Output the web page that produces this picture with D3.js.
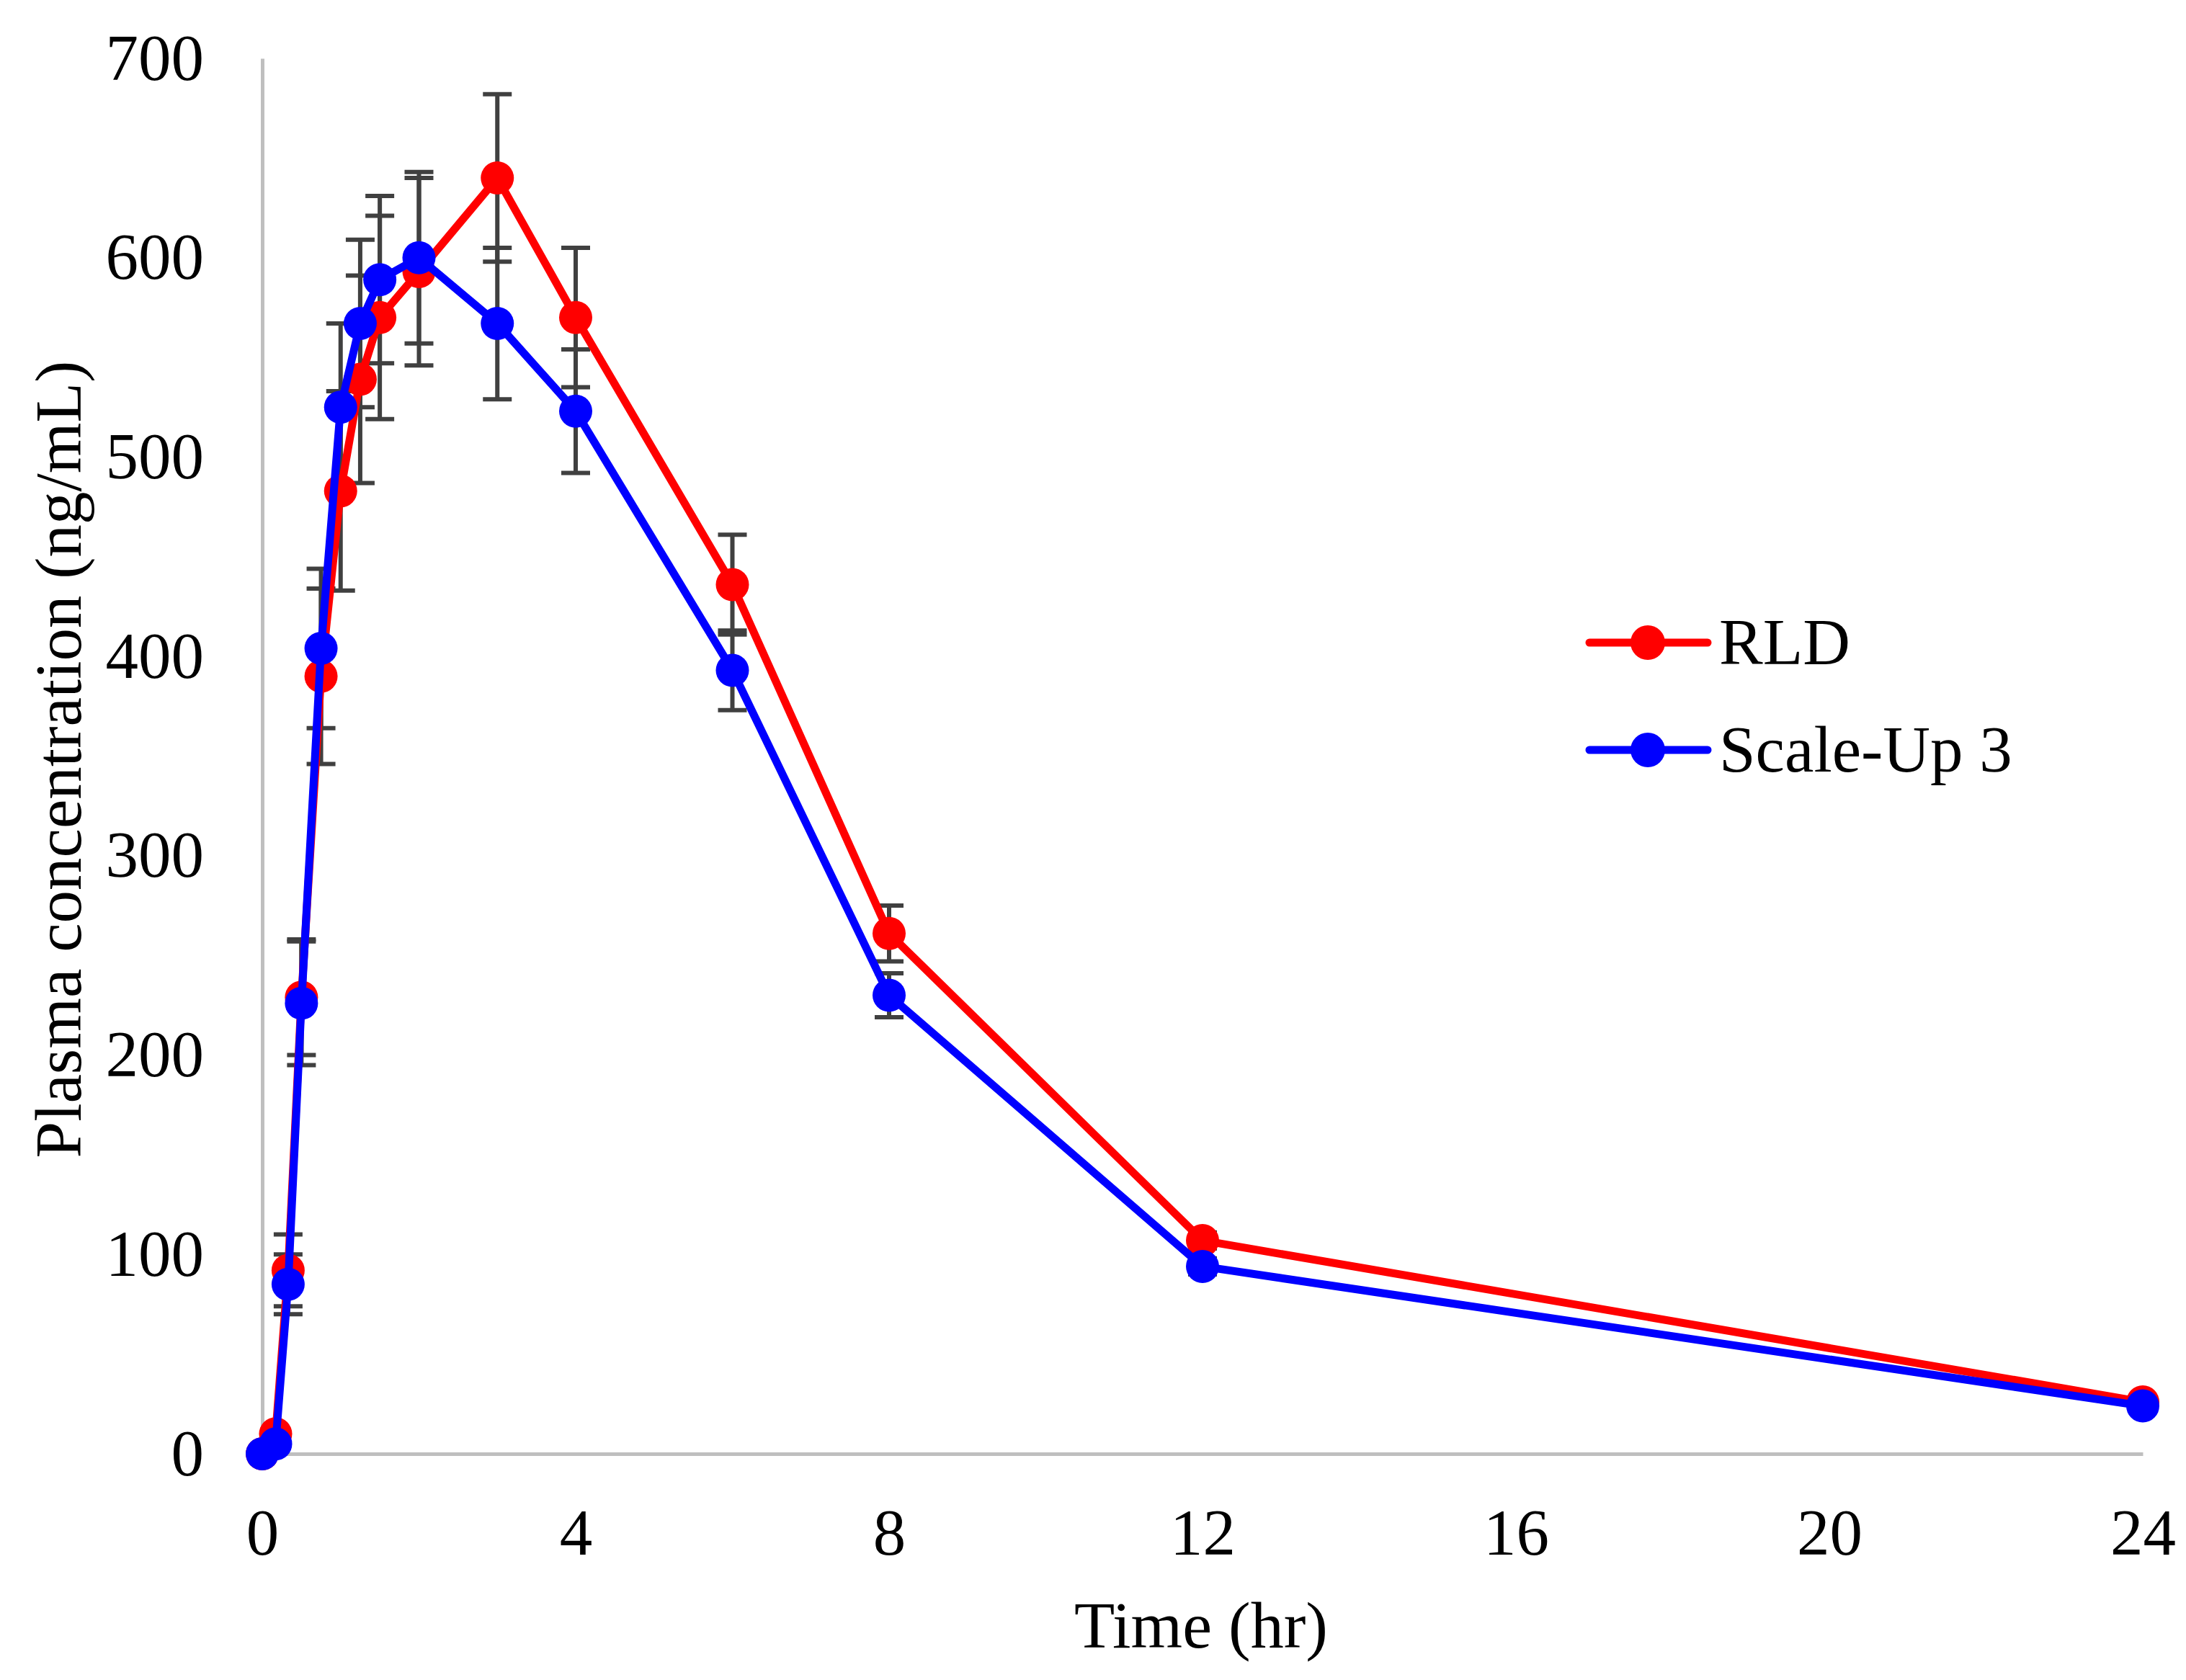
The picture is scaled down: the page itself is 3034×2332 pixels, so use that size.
<!DOCTYPE html>
<html>
<head>
<meta charset="utf-8">
<script src="https://cdn.jsdelivr.net/npm/d3@7"></script>
<style>
  html, body { margin: 0; padding: 0; background: #ffffff; }
  svg { display: block; font-family: "Liberation Serif", "Times New Roman", serif; }
</style>
</head>
<body>
<svg id="chart" width="3034" height="2332"></svg>
<script>
// ---- data ----
const timeHr = [0, 0.17, 0.33, 0.5, 0.75, 1, 1.25, 1.5, 2, 3, 4, 6, 8, 12, 24];
const rldMean = [0, 10, 92, 229, 390, 483, 539, 570, 593, 640, 570, 436, 261, 107, 26];
const rldSD   = [0, 2, 18, 29, 44, 50, 52, 51, 47, 42, 35, 25, 14, 4, 3];
const scaleUpMean = [0, 5, 85, 226, 404, 525, 567, 589, 600, 567, 523, 393, 230, 94, 24];
const scaleUpSD   = [0, 2, 15, 31, 40, 42, 42, 42, 43, 38, 31, 20, 11, 4, 3];
const seriesNames = ["RLD", "Scale-Up 3"];
const seriesColors = ["#ff0000", "#0000ff"];
const xTicks = [0, 4, 8, 12, 16, 20, 24];
const yTicks = [0, 100, 200, 300, 400, 500, 600, 700];
const xTitle = "Time (hr)";
const yTitle = "Plasma concentration (ng/mL)";

// ---- layout ----
const W = 3034, H = 2332;
const plot = { left: 364, right: 2974, top: 81, bottom: 2018 };
const FONT = 91;

const svg = d3.select("#chart");
svg.append("rect").attr("width", W).attr("height", H).attr("fill", "#ffffff");

const x = d3.scaleLinear().domain([0, 24]).range([plot.left, plot.right]);
const y = d3.scaleLinear().domain([0, 700]).range([plot.bottom, plot.top]);

// axes
const gx = svg.append("g")
  .attr("transform", `translate(0,${plot.bottom})`)
  .call(d3.axisBottom(x).tickValues(xTicks).tickFormat(d3.format("d"))
    .tickSize(0).tickSizeOuter(0).tickPadding(75));
const gy = svg.append("g")
  .attr("transform", `translate(${plot.left},0)`)
  .call(d3.axisLeft(y).tickValues(yTicks).tickFormat(d3.format("d"))
    .tickSize(0).tickSizeOuter(0).tickPadding(81));
[gx, gy].forEach(g => {
  g.select(".domain").attr("stroke", "#bfbfbf").attr("stroke-width", 5);
  g.selectAll(".tick text")
    .attr("font-family", "'Liberation Serif', 'Times New Roman', serif")
    .attr("font-size", FONT).attr("fill", "#000000");
});

// axis titles
svg.append("text")
  .attr("x", (plot.left + plot.right) / 2 - 2).attr("y", 2287)
  .attr("text-anchor", "middle").attr("font-size", FONT + 1).attr("fill", "#000")
  .text(xTitle);
svg.append("text")
  .attr("transform", `translate(112,1054) rotate(-90)`)
  .attr("text-anchor", "middle").attr("font-size", FONT).attr("fill", "#000")
  .text(yTitle);

// series
const series = [
  { name: seriesNames[0], color: seriesColors[0], mean: rldMean, sd: rldSD },
  { name: seriesNames[1], color: seriesColors[1], mean: scaleUpMean, sd: scaleUpSD }
].map(s => ({ ...s, pts: timeHr.map((t, i) => ({ t, v: s.mean[i], e: s.sd[i] })) }));

// error bars (bottom layer)
const errG = svg.append("g").attr("stroke", "#404040").attr("stroke-width", 6).attr("fill", "none");
const capHalf = 20;
series.forEach(s => {
  s.pts.filter(p => p.e > 0).forEach(p => {
    const cx = x(p.t), yt = y(p.v + p.e), yb = y(p.v - p.e);
    errG.append("line").attr("x1", cx).attr("x2", cx).attr("y1", yt).attr("y2", yb);
    errG.append("line").attr("x1", cx - capHalf).attr("x2", cx + capHalf).attr("y1", yt).attr("y2", yt);
    errG.append("line").attr("x1", cx - capHalf).attr("x2", cx + capHalf).attr("y1", yb).attr("y2", yb);
  });
});

const line = d3.line().x(p => x(p.t)).y(p => y(p.v));
series.forEach(s => {
  svg.append("path").datum(s.pts)
    .attr("d", line).attr("fill", "none").attr("stroke", s.color)
    .attr("stroke-width", 11).attr("stroke-linejoin", "round").attr("stroke-linecap", "round");
  svg.append("g").selectAll("circle").data(s.pts).join("circle")
    .attr("cx", p => x(p.t)).attr("cy", p => y(p.v)).attr("r", 23).attr("fill", s.color);
});

// legend
const legendRows = [892, 1041];
series.forEach((s, i) => {
  const g = svg.append("g").attr("transform", `translate(0,${legendRows[i]})`);
  g.append("line").attr("x1", 2206).attr("x2", 2370).attr("y1", 0).attr("y2", 0)
    .attr("stroke", s.color).attr("stroke-width", 11).attr("stroke-linecap", "round");
  g.append("circle").attr("cx", 2287).attr("cy", 0).attr("r", 24).attr("fill", s.color);
  g.append("text").attr("x", 2386).attr("y", 30).attr("font-size", FONT).attr("fill", "#000").text(s.name);
});
</script>
</body>
</html>
